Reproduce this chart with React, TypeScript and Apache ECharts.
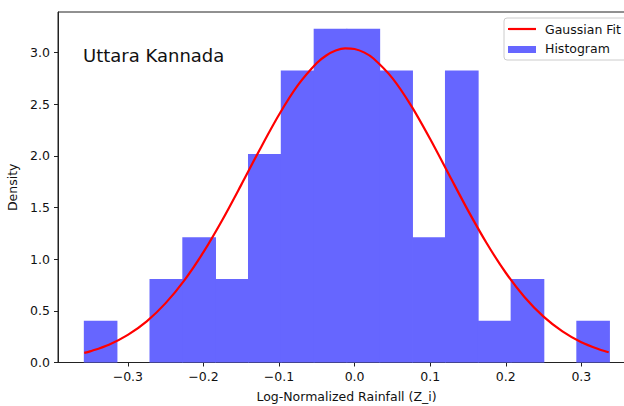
import React, { useEffect, useRef } from "react";
import * as echarts from "echarts";

const binEdges = [
  -0.3577, -0.3143, -0.2708, -0.2274, -0.1839, -0.1405, -0.0971, -0.0536,
  -0.0102, 0.0333, 0.0767, 0.1201, 0.1636, 0.207, 0.2505, 0.2939, 0.3373,
];
const densities = [
  0.404, 0, 0.808, 1.212, 0.808, 2.02, 2.828, 3.232, 3.232, 2.828, 1.212,
  2.828, 0.404, 0.808, 0, 0.404,
];
const curveX = [
  -0.3577, -0.35, -0.325, -0.3, -0.275, -0.25, -0.225, -0.2, -0.175, -0.15,
  -0.125, -0.1, -0.075, -0.05, -0.0375, -0.025, -0.0125, 0.0, 0.0125, 0.025,
  0.05, 0.075, 0.1, 0.125, 0.15, 0.175, 0.2, 0.225, 0.25, 0.275, 0.3, 0.325,
  0.3362,
];
const curveY = [
  0.093, 0.108, 0.173, 0.268, 0.399, 0.575, 0.798, 1.068, 1.38, 1.72, 2.068,
  2.399, 2.685, 2.9, 2.973, 3.021, 3.042, 3.036, 3.003, 2.944, 2.754, 2.485,
  2.164, 1.818, 1.473, 1.152, 0.869, 0.632, 0.444, 0.301, 0.196, 0.124, 0.0996,
];
const xTicks = [-0.3, -0.2, -0.1, 0.0, 0.1, 0.2, 0.3];
const yTicks = [0, 0.5, 1.0, 1.5, 2.0, 2.5, 3.0];
const titleText = "Uttara Kannada";
const xName = "Log-Normalized Rainfall (Z_i)";
const yName = "Density";
const legendNames = ["Gaussian Fit", "Histogram"];

const FONT = "DejaVu Sans";

function fmt(v: number) {
  const s = Math.abs(v).toFixed(1);
  return v < -1e-9 ? "\u2212" + s : s;
}

export default function App() {
  const ref = useRef<HTMLDivElement>(null);
  useEffect(() => {
    if (!ref.current) return;
    const chart = echarts.init(ref.current, null, { renderer: "svg" });
    const histData = densities.map((d, i) => [binEdges[i], binEdges[i + 1], d]);
    const lineData = curveX.map((x, i) => [x, curveY[i]]);
    chart.setOption({
      animation: false,
      grid: {
        left: 58,
        top: 12,
        width: 577,
        height: 350.5,
        containLabel: false,
        outerBoundsMode: "none",
        show: true,
        borderColor: "#222",
        borderWidth: 1,
        backgroundColor: "transparent",
      },
      xAxis: {
        type: "value",
        min: -0.3924,
        max: 0.371,
        name: xName,
        nameLocation: "middle",
        nameGap: 27,
        nameTextStyle: { fontFamily: FONT, fontSize: 12.5, color: "#111" },
        splitLine: { show: false },
        axisLine: { show: true, onZero: false, lineStyle: { color: "#222", width: 1 } },
        axisTick: { show: true, length: 4, customValues: xTicks, lineStyle: { color: "#222" } },
        axisLabel: {
          customValues: xTicks,
          formatter: (v: number) => fmt(v),
          fontFamily: FONT,
          fontSize: 12.5,
          color: "#111",
          margin: 7,
        },
      },
      yAxis: {
        type: "value",
        min: 0,
        max: 3.394,
        name: yName,
        nameLocation: "middle",
        nameGap: 31,
        nameTextStyle: { fontFamily: FONT, fontSize: 12.5, color: "#111" },
        splitLine: { show: false },
        axisLine: { show: true, onZero: false, lineStyle: { color: "#222", width: 1 } },
        axisTick: { show: true, length: 4, customValues: yTicks, lineStyle: { color: "#222" } },
        axisLabel: {
          customValues: yTicks,
          formatter: (v: number) => fmt(v),
          fontFamily: FONT,
          fontSize: 12.5,
          color: "#111",
          margin: 8,
        },
      },
      series: [
        {
          type: "custom",
          name: legendNames[1],
          data: histData,
          encode: { x: [0, 1], y: 2 },
          z: 1,
          renderItem: (params: any, api: any) => {
            const x0 = api.value(0);
            const x1 = api.value(1);
            const h = api.value(2);
            if (!h) return null;
            const p0 = api.coord([x0, h]);
            const p1 = api.coord([x1, 0]);
            return {
              type: "rect",
              shape: {
                x: p0[0] - 0.4,
                y: p0[1],
                width: p1[0] - p0[0] + 0.8,
                height: p1[1] - p0[1],
              },
              style: { fill: "#6666ff" },
            };
          },
        },
        {
          type: "line",
          name: legendNames[0],
          data: lineData,
          smooth: 0.3,
          showSymbol: false,
          z: 3,
          lineStyle: { color: "#ff0000", width: 2.2 },
        },
      ],
      graphic: [
        {
          type: "text",
          left: 83,
          top: 46,
          style: { text: titleText, fontFamily: FONT, fontSize: 18, fill: "#111" },
        },
        {
          type: "rect",
          shape: { x: 504, y: 18, width: 140, height: 42, r: 3 },
          style: { fill: "rgba(255,255,255,0.8)", stroke: "#cccccc", lineWidth: 1 },
          z: 10,
        },
        {
          type: "line",
          shape: { x1: 508, y1: 29, x2: 536, y2: 29 },
          style: { stroke: "#ff0000", lineWidth: 2.2 },
          z: 11,
        },
        {
          type: "rect",
          shape: { x: 508, y: 46, width: 28, height: 7 },
          style: { fill: "#6666ff" },
          z: 11,
        },
        {
          type: "text",
          x: 545,
          y: 29,
          style: {
            text: legendNames[0],
            fontFamily: FONT,
            fontSize: 12.5,
            fill: "#111",
            verticalAlign: "middle",
          },
          z: 11,
        },
        {
          type: "text",
          x: 545,
          y: 48,
          style: {
            text: legendNames[1],
            fontFamily: FONT,
            fontSize: 12.5,
            fill: "#111",
            verticalAlign: "middle",
          },
          z: 11,
        },
      ],
    });
    return () => chart.dispose();
  }, []);
  return (
    <div
      ref={ref}
      style={{ position: "absolute", left: 0, top: 0, width: 624, height: 406 }}
    />
  );
}
